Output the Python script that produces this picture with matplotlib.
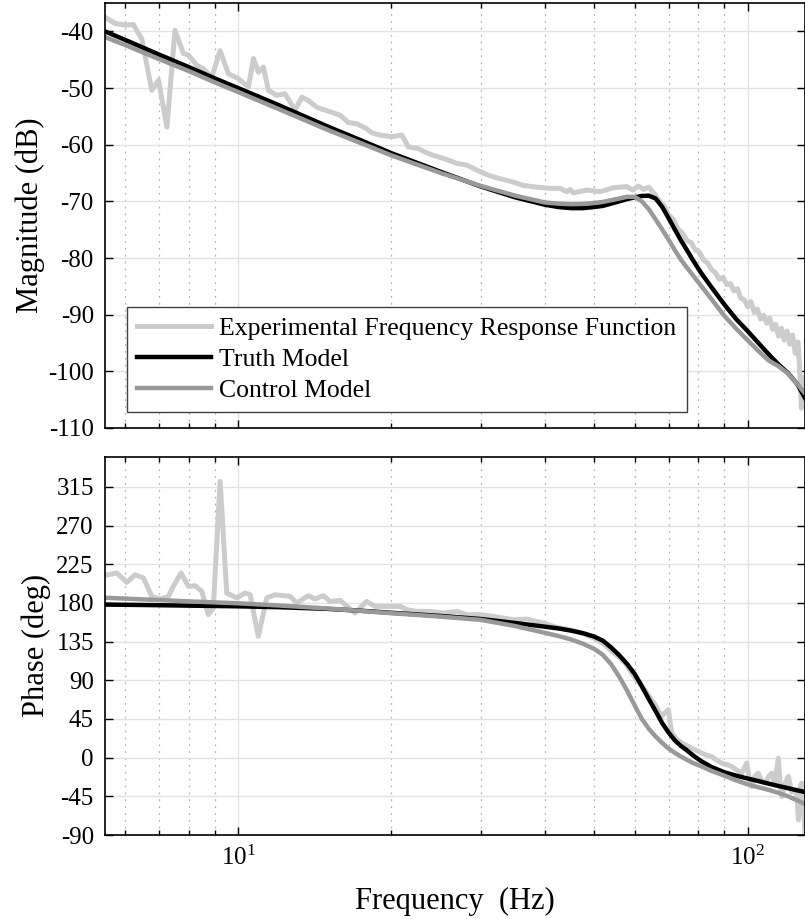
import matplotlib
matplotlib.use('Agg')
import matplotlib.pyplot as plt
from matplotlib.ticker import LogLocator, FixedLocator, NullFormatter

plt.rcParams['font.family'] = 'Liberation Serif'
plt.rcParams['mathtext.fontset'] = 'custom'
plt.rcParams['mathtext.rm'] = 'Liberation Serif'
plt.rcParams['axes.unicode_minus'] = False

# experimental FRF
exp_mag_freq = [5.48, 5.74, 6.00, 6.23, 6.47, 6.77, 6.98, 7.25, 7.52, 7.81, 7.99, 8.30, 8.55,
                8.88, 9.22, 9.57, 10.0, 10.48, 10.72, 10.96, 11.21, 11.47, 11.91, 12.36, 12.94,
                13.34, 13.74, 14.27, 14.82, 15.50, 15.86, 16.46, 17.10, 17.88, 18.29, 18.99,
                20.03, 20.96, 21.59, 22.59, 23.28, 24.17, 25.48, 26.87, 28.11, 29.41, 30.99,
                32.67, 34.69, 36.30, 38.56, 40.95, 42.84, 44.16, 44.83, 45.50, 48.34, 51.33,
                54.51, 57.9, 59.5, 61.0, 62.5, 64.0, 65.5, 67.0, 68.5, 70.0, 71.5, 73.0, 74.5,
                76.0, 77.5, 79.0, 80.5, 82.0, 83.5, 85.0, 86.5, 88.0, 89.5, 91.0, 92.5, 94.0,
                95.5, 97.0, 98.5, 100.0, 101.5, 103.0, 104.5, 106.0, 107.5, 109.0, 110.5,
                112.0, 113.5, 115.0, 116.5, 118.0, 119.5, 121.0, 122.5, 124.0, 125.5, 126.5,
                127.5, 128.5, 129.6]
exp_mag = [-37.5, -38.6, -38.9, -38.8, -41.3, -50.4, -48.6, -56.9, -39.8, -43.9, -44.2, -46.0,
           -46.6, -48.1, -43.4, -47.5, -48.3, -49.8, -44.8, -47.2, -46.3, -50.4, -51.3, -51.0,
           -53.9, -51.6, -52.2, -53.4, -53.9, -54.5, -54.8, -56.1, -56.3, -57.2, -57.9, -58.3,
           -58.6, -58.3, -60.4, -60.7, -61.3, -61.9, -62.5, -63.3, -63.6, -64.5, -65.4, -66.0,
           -66.6, -67.2, -67.5, -67.7, -67.7, -68.3, -67.9, -68.5, -68.0, -68.3, -67.6, -67.4,
           -68.0, -67.3, -67.9, -67.5, -68.6, -69.8, -70.8, -72.4, -73.2, -74.9, -75.6, -76.9,
           -77.3, -78.6, -79.0, -80.4, -80.9, -82.1, -82.6, -83.8, -83.4, -84.7, -84.5, -85.8,
           -85.4, -87.1, -87.4, -88.6, -87.7, -89.6, -89.0, -90.8, -90.1, -91.5, -90.6, -92.6,
           -91.7, -93.8, -92.4, -94.5, -92.9, -95.2, -93.6, -96.8, -94.8, -99.5, -106.5,
           -101.0, -104.0]

exp_ph_freq = [5.48, 5.78, 6.05, 6.28, 6.52, 6.77, 7.03, 7.30, 7.46, 7.73, 7.99, 8.23, 8.49,
               8.74, 8.94, 9.22, 9.50, 9.94, 10.32, 10.56, 10.96, 11.38, 11.82, 12.65, 13.04,
               13.74, 14.16, 14.70, 15.15, 15.86, 16.97, 17.88, 18.57, 19.58, 20.79, 21.43,
               22.42, 23.81, 25.29, 26.87, 28.11, 29.85, 32.19, 34.69, 36.86, 39.73, 42.0,
               44.0, 46.0, 48.0, 50.0, 52.0, 54.0, 56.0, 57.5, 59.0, 60.1, 61.5, 62.9, 64.3,
               65.8, 66.8, 67.8, 68.8, 69.9, 70.5, 71.0, 72.5, 74.3, 76.0, 77.7, 79.5, 81.3,
               83.0, 85.0, 87.0, 89.0, 91.0, 93.1, 95.0, 97.4, 98.5, 99.6, 100.8, 101.9, 103.3,
               104.9, 106.5, 108.2, 110.0, 111.5, 113.0, 114.9, 115.8, 116.7, 118.5, 120.2,
               122.0, 123.9, 125.0, 125.8, 126.7, 127.7, 128.7, 129.6]
exp_ph = [211.9, 214.8, 203.9, 212.8, 209.0, 187.6, 184.5, 187.6, 199.2, 214.8, 199.2, 200.0,
          193.4, 166.3, 174.1, 321.5, 191.5, 185.7, 191.5, 189.5, 141.0, 185.7, 189.5, 187.6,
          179.9, 188.4, 184.5, 188.4, 181.7, 182.9, 168.2, 181.7, 175.9, 175.9, 175.9, 172.1,
          170.1, 170.1, 168.2, 170.1, 166.3, 166.3, 163.6, 160.4, 161.2, 156.6, 152.0, 149.5,
          147.0, 143.5, 139.0, 133.0, 124.0, 117.0, 110.0, 100.0, 93.0, 86.0, 78.0, 70.0,
          62.0, 55.0, 48.0, 52.0, 55.6, 40.0, 28.5, 22.0, 16.8, 14.0, 11.0, 8.0, 5.2, 3.0,
          1.2, -3.0, -6.5, -8.0, -10.4, -14.0, -18.1, -12.0, -6.5, -25.0, -33.7, -22.0, -18.1,
          -27.0, -29.7, -22.0, -18.1, -30.0, -0.7, -30.0, -45.4, -30.0, -21.8, -40.0, -37.6,
          -45.0, -72.5, -35.0, -29.8, -60.0, -88.0]

# truth and control models
model_freq = [5.48, 6, 7, 8, 9, 10, 12, 15, 17.5, 20, 25, 30, 35, 40, 42.5, 45, 47.5, 50, 52,
              54, 56, 58, 60, 62, 64, 66, 68, 70, 72, 74, 76, 78, 81, 85, 90, 95, 100, 105,
              110, 115, 120, 125, 129.6]
truth_mag = [-40.0, -41.5, -44.1, -46.3, -48.3, -50.0, -53.0, -56.8, -59.3, -61.5, -64.8, -67.4,
             -69.3, -70.6, -71.0, -71.2, -71.2, -71.0, -70.8, -70.4, -70.0, -69.6, -69.3,
             -69.05, -69.0, -69.5, -71.0, -73.0, -75.0, -76.9, -78.6, -80.3, -82.6, -85.2,
             -88.2, -90.8, -92.9, -95.0, -97.0, -98.8, -100.3, -102.2, -104.7]
control_mag = [-41.0, -42.4, -44.9, -47.0, -49.0, -50.7, -53.7, -57.4, -59.8, -61.9, -65.0, -67.3,
               -69.0, -70.2, -70.4, -70.5, -70.45, -70.3, -70.1, -69.8, -69.5, -69.2, -69.2,
               -70.0, -71.4, -73.2, -75.0, -76.8, -78.65, -80.3, -81.7, -83.0, -84.9, -87.3,
               -90.2, -92.5, -94.5, -96.4, -98.1, -99.1, -100.4, -102.2, -103.9]
truth_ph = [178.0, 177.8, 177.3, 176.8, 176.4, 176.0, 175.0, 173.0, 170.8, 168.5, 164.8, 161.2,
            156.6, 152.3, 150.3, 147.8, 144.8, 140.8, 136.0, 128.0, 119.0, 109.0, 97.5, 83.0,
            68.0, 54.0, 40.0, 29.0, 20.0, 13.5, 8.5, 3.0, -4.0, -11.0, -17.0, -21.0, -24.3,
            -27.3, -30.3, -33.0, -35.5, -38.0, -40.0]
control_ph = [186.0, 185.0, 183.3, 181.8, 180.6, 179.5, 177.0, 173.5, 170.5, 168.0, 164.0, 160.2,
              153.0, 145.2, 141.5, 137.5, 132.5, 126.5, 119.5, 108.5, 94.0, 78.0, 61.0, 45.0,
              33.5, 24.5, 17.0, 10.5, 5.5, 1.2, -2.5, -6.0, -10.0, -15.5, -21.0, -26.5, -31.0,
              -34.5, -37.5, -41.0, -45.0, -49.5, -54.0]

mag_ticks = [-110, -100, -90, -80, -70, -60, -50, -40]
ph_ticks = [-90, -45, 0, 45, 90, 135, 180, 225, 270, 315]

c_exp = '#cccccc'
c_truth = '#000000'
c_ctrl = '#999999'

fig = plt.figure(figsize=(8.05, 9.19), dpi=100)
ax1 = fig.add_axes([0.1304, 0.5343, 0.8696, 0.4624])
ax2 = fig.add_axes([0.1304, 0.0914, 0.8696, 0.4116])

ax1.semilogx(exp_mag_freq, exp_mag, color=c_exp, lw=3.6, label='Experimental Frequency Response Function')
ax1.semilogx(model_freq, truth_mag, color=c_truth, lw=3.2, label='Truth Model')
ax1.semilogx(model_freq, control_mag, color=c_ctrl, lw=3.2, label='Control Model')

ax2.semilogx(exp_ph_freq, exp_ph, color=c_exp, lw=3.6)
ax2.semilogx(model_freq, truth_ph, color=c_truth, lw=3.2)
ax2.semilogx(model_freq, control_ph, color=c_ctrl, lw=3.2)

for ax in (ax1, ax2):
    ax.set_xlim(5.48, 129.6)
    ax.xaxis.set_major_locator(LogLocator(base=10, numticks=10))
    ax.xaxis.set_minor_locator(LogLocator(base=10, subs=range(2, 10), numticks=20))
    ax.xaxis.set_minor_formatter(NullFormatter())
    ax.grid(True, which='major', color='#e3e3e3', lw=1.0, ls='-')
    ax.grid(True, which='minor', axis='x', color='#b5b5b5', lw=0.9, ls=(0, (1.5, 4)))
    ax.tick_params(which='both', direction='in', top=True, right=True, labelsize=18,
                   width=1.0, pad=8)
    ax.tick_params(which='major', length=6)
    ax.tick_params(which='minor', length=3.5)
    for s in ax.spines.values():
        s.set_linewidth(1.2)
    ax.set_axisbelow(True)

ax1.set_ylim(-110, -35)
ax1.yaxis.set_major_locator(FixedLocator(mag_ticks))
ax1.tick_params(labelbottom=False)
ax1.set_ylabel('Magnitude (dB)', fontsize=22, labelpad=2)

ax2.set_ylim(-90, 350)
ax2.yaxis.set_major_locator(FixedLocator(ph_ticks))
ax2.set_ylabel('Phase (deg)', fontsize=22, labelpad=4)
ax2.set_xlabel('Frequency  (Hz)', fontsize=22, labelpad=12)

leg = ax1.legend(loc='lower left', bbox_to_anchor=(0.031, 0.038), borderaxespad=0,
                 fontsize=18.5, handlelength=2.9, handletextpad=0.3, labelspacing=0.3,
                 borderpad=0.4, fancybox=False, framealpha=1, edgecolor='#404040')
leg.get_frame().set_linewidth(1.0)

fig.savefig('out.png', dpi=100)
